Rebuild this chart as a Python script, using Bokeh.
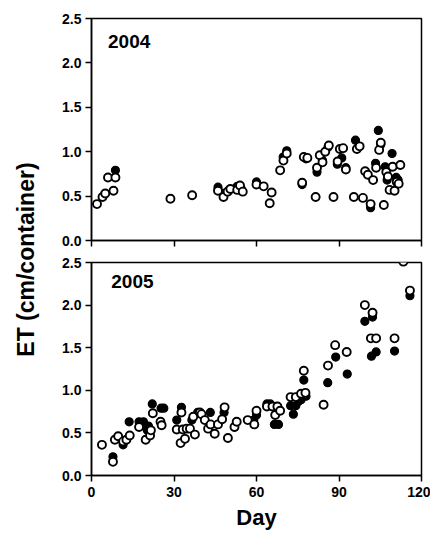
from bokeh.plotting import figure
from bokeh.layouts import row, column
from bokeh.models import Range1d, Label, FixedTicker, NumeralTickFormatter
from bokeh.embed import file_html
from bokeh.resources import INLINE
import math

# ---------------- data ----------------
# 2004 panel
top_open_day = [2, 4, 5, 6, 8, 8.7, 28.7, 36.6, 46, 48, 49.5, 50.5, 53, 54, 55, 60, 62.6, 64.8, 65.5,
                68.6, 69.8, 71, 76.6, 77.2, 78.5, 81.5, 82, 83, 84, 85, 86.3, 88, 89.5, 90.3, 91.5,
                92.5, 95.4, 96.5, 97.5, 98.7, 99.5, 100.5, 101.5, 102.4, 103.5, 104.6, 105.2, 106.3,
                107.2, 107.8, 108.4, 109.5, 110.2, 111, 111.7, 112.3]
top_open_et = [0.41, 0.49, 0.53, 0.71, 0.56, 0.71, 0.47, 0.51, 0.56, 0.49, 0.55, 0.58, 0.57, 0.62, 0.55,
               0.63, 0.61, 0.42, 0.54, 0.79, 0.90, 0.98, 0.65, 0.94, 0.93, 0.49, 0.82, 0.96, 0.88, 1.00,
               1.07, 0.49, 0.89, 1.03, 1.04, 0.80, 0.49, 1.03, 1.06, 0.48, 0.78, 0.74, 0.41, 0.68, 0.82,
               1.02, 1.10, 0.40, 0.77, 0.72, 0.57, 0.83, 0.56, 0.66, 0.64, 0.85]
top_fill_day = [8.7, 46, 48, 50, 53, 54.5, 60, 69.7, 71, 76.6, 78, 82, 84, 86, 89.4, 91, 92.5, 96,
                101.5, 103.3, 104.3, 105.2, 106.8, 107.5, 109.3, 110.8, 111.5]
top_fill_et = [0.79, 0.60, 0.53, 0.57, 0.61, 0.58, 0.66, 0.94, 1.01, 0.63, 0.92, 0.77, 0.90, 1.05, 0.86,
               0.93, 0.82, 1.13, 0.37, 0.87, 1.24, 1.08, 0.83, 0.68, 0.98, 0.71, 0.68]

# 2005 panel
bot_open_day = [3.8, 7.8, 8.5, 9.7, 11.5, 12.7, 13.9, 17.3, 19.7, 21.3, 21.6, 22.3, 25.1, 25.5, 31,
                32.4, 32.7, 33.2, 34, 34.6, 35.8, 37, 37.6, 39.4, 40, 41.2, 42.4, 43.3, 44.8, 46,
                47.5, 48.4, 49.6, 52, 52.8, 56.8, 59.2, 60, 63.8, 65.8, 66.8, 67.6, 68.6, 72.4,
                74.3, 76.2, 77.2, 77.8, 84.4, 86, 88.6, 92.8, 99.4, 101.6, 102.2, 103.5, 110.2,
                113.4, 115.8]
bot_open_et = [0.36, 0.16, 0.42, 0.46, 0.40, 0.42, 0.47, 0.57, 0.42, 0.47, 0.53, 0.73, 0.63, 0.59, 0.54,
               0.38, 0.74, 0.54, 0.43, 0.55, 0.55, 0.69, 0.48, 0.74, 0.72, 0.65, 0.55, 0.60, 0.49, 0.60,
               0.66, 0.80, 0.44, 0.57, 0.63, 0.65, 0.60, 0.76, 0.81, 0.81, 0.71, 0.81, 0.76, 0.92,
               0.92, 0.96, 1.23, 0.97, 0.83, 1.29, 1.53, 1.45, 2.00, 1.61, 1.91, 1.61, 1.61,
               2.51, 2.17]
bot_fill_day = [7.8, 11.5, 13.7, 17.3, 18.9, 20.3, 20.7, 22.1, 25.3, 26.3, 31, 32.7, 36.5, 38.6,
                43.2, 48.2, 52, 59, 60, 63.8, 65, 66.5, 68, 72.4, 73.4, 74.3, 75.2, 76.2, 77.2,
                78, 85.9, 88.8, 93, 99.4, 101.8, 102.2, 103.5, 110.2, 115.8]
bot_fill_et = [0.22, 0.36, 0.63, 0.63, 0.63, 0.53, 0.58, 0.84, 0.79, 0.79, 0.65, 0.80, 0.65, 0.74,
               0.74, 0.74, 0.57, 0.65, 0.71, 0.84, 0.84, 0.60, 0.60, 0.82, 0.72, 0.82, 0.87, 0.89, 1.12,
               0.93, 1.09, 1.39, 1.19, 1.81, 1.40, 1.86, 1.45, 1.46, 2.11]

y_ticks = [0.0, 0.5, 1.0, 1.5, 2.0, 2.5]
x_ticks = [0, 30, 60, 90, 120]
panel_labels = ["2004", "2005"]
y_title = "ET (cm/container)"
x_title = "Day"

FONT = "Liberation Sans"


def style(p, show_x_labels):
    p.xgrid.visible = False
    p.ygrid.visible = False
    p.outline_line_color = "black"
    p.outline_line_width = 1.5
    p.background_fill_color = "white"
    p.border_fill_color = "white"
    for ax in (p.xaxis[0], p.yaxis[0]):
        ax.axis_line_width = 1.5
        ax.axis_line_color = "black"
        ax.major_tick_line_width = 1.5
        ax.major_tick_line_color = "black"
        ax.major_tick_in = 0
        ax.major_tick_out = 6
        ax.minor_tick_out = 0
        ax.minor_tick_in = 0
        ax.major_label_text_font = FONT
        ax.major_label_text_font_size = "14px"
        ax.major_label_text_font_style = "bold"
        ax.major_label_text_color = "black"
    p.yaxis.ticker = FixedTicker(ticks=y_ticks)
    p.yaxis.formatter = NumeralTickFormatter(format="0.0")
    p.yaxis.major_label_standoff = 4
    p.xaxis.ticker = FixedTicker(ticks=x_ticks)
    if not show_x_labels:
        p.xaxis.major_label_text_color = None
        p.xaxis.major_label_standoff = 0
    else:
        p.xaxis.major_label_standoff = 5
        p.xaxis.axis_label = x_title
        p.xaxis.axis_label_text_font = FONT
        p.xaxis.axis_label_text_font_size = "22px"
        p.xaxis.axis_label_text_font_style = "bold"
        p.xaxis.axis_label_text_color = "black"
        p.xaxis.axis_label_standoff = 5


def draw(p, fd, fe, od, oe):
    p.scatter(fd, fe, size=8, fill_color="black", line_color="black", line_width=1.2)
    p.scatter(od, oe, size=8, fill_color="white", line_color="black", line_width=1.9)


p_top = figure(width=380, height=250, x_range=Range1d(0, 120), y_range=Range1d(0, 2.5),
               toolbar_location=None, output_backend="svg",
               min_border_left=41, min_border_right=9, min_border_top=18, min_border_bottom=10)
style(p_top, False)
draw(p_top, top_fill_day, top_fill_et, top_open_day, top_open_et)
p_top.add_layout(Label(x=6.0, y=2.31, text=panel_labels[0], text_font=FONT, text_font_size="19px",
                       text_font_style="bold", text_color="black", text_baseline="top",
                       text_align="left"))

p_bot = figure(width=380, height=282, x_range=Range1d(0, 120), y_range=Range1d(0, 2.5),
               toolbar_location=None, output_backend="svg",
               min_border_left=41, min_border_right=9, min_border_top=12, min_border_bottom=57)
style(p_bot, True)
draw(p_bot, bot_fill_day, bot_fill_et, bot_open_day, bot_open_et)
p_bot.add_layout(Label(x=7.2, y=2.35, text=panel_labels[1], text_font=FONT, text_font_size="19px",
                       text_font_style="bold", text_color="black", text_baseline="top",
                       text_align="left"))

p_lab = figure(width=50, height=532, x_range=Range1d(0, 1), y_range=Range1d(0, 1),
               toolbar_location=None, output_backend="svg", x_axis_location=None,
               y_axis_location=None, min_border=0)
p_lab.xgrid.visible = False
p_lab.ygrid.visible = False
p_lab.outline_line_color = None
p_lab.add_layout(Label(x=0.5, y=0.513, text=y_title, angle=math.pi / 2, text_font=FONT,
                       text_font_size="23px", text_font_style="bold", text_color="black",
                       text_align="center", text_baseline="middle"))

layout = row(p_lab, column(p_top, p_bot))

open("out.html", "w").write(file_html(layout, INLINE))
